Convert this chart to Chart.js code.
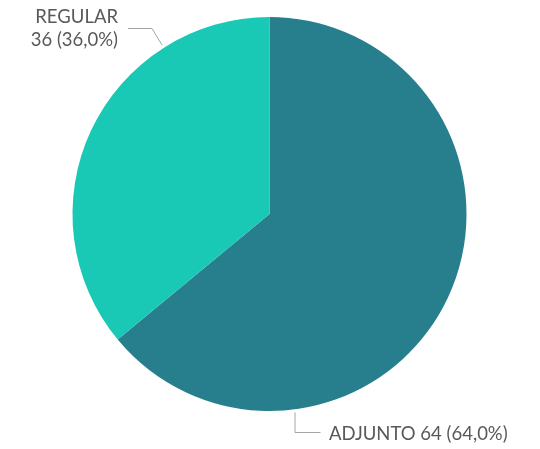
<!DOCTYPE html>
<html><head><meta charset="utf-8">
<script src="https://cdn.jsdelivr.net/npm/chart.js@4/dist/chart.umd.min.js"></script>
<style>html,body{margin:0;padding:0;background:#fff}#w{width:540px;height:449px}</style>
</head><body><div id="w"><canvas id="c" width="540" height="449"></canvas></div>
<script>
const categories = ["ADJUNTO", "REGULAR"];
const values = [64, 36];
const colors = ["#277E8C", "#19C9B5"];

const total = values.reduce((a,b)=>a+b,0);
function pct(v){return (v/total*100).toFixed(1).replace('.',',')+'%';}

const labelPlugin = {
  id:'lbl',
  afterDatasetsDraw(chart){
    const ctx = chart.ctx;
    const arcs = chart.getDatasetMeta(0).data;
    const cx = arcs[0].x, cy = arcs[0].y, r = arcs[0].outerRadius;
    ctx.save();
    ctx.font = '18.5px Lato, "Open Sans", sans-serif';
    ctx.fillStyle = '#595959';
    ctx.strokeStyle = '#A6A6A6';
    ctx.lineWidth = 1;
    // ADJUNTO (index 0): leader from circle down then right
    {
      const ex = cx + 25.5, ang = Math.asin(25.5/(r+3));
      const sy = cy + (r+3)*Math.cos(ang);
      ctx.beginPath();
      ctx.moveTo(ex, sy); ctx.lineTo(ex, cy+218.5); ctx.lineTo(ex+25.5, cy+218.5); ctx.stroke();
      ctx.textAlign='left'; ctx.textBaseline='middle';
      ctx.fillText(categories[0]+' '+values[0]+' ('+pct(values[0])+')', ex+34, cy+220);
    }
    // REGULAR (index 1)
    {
      const a = Math.atan2(-169, -107.5);
      const px = cx + (r+3)*Math.cos(a), py = cy + (r+3)*Math.sin(a);
      ctx.beginPath();
      ctx.moveTo(px, py); ctx.lineTo(cx-117.5, cy-185.5); ctx.lineTo(cx-141.5, cy-185.5); ctx.stroke();
      ctx.textAlign='right'; ctx.textBaseline='middle';
      ctx.fillText(categories[1], cx-151.5, cy-197);
      ctx.fillText(values[1]+' ('+pct(values[1])+')', cx-151.5, cy-174);
    }
    ctx.restore();
  }
};

new Chart(document.getElementById('c'), {
  type:'pie',
  data:{labels:categories, datasets:[{data:values, backgroundColor:colors, borderWidth:0}]},
  options:{
    responsive:false, animation:false,
    layout:{padding:{top:17, bottom:38, left:0, right:1}},
    plugins:{legend:{display:false}, tooltip:{enabled:false}}
  },
  plugins:[labelPlugin]
});
</script></body></html>
